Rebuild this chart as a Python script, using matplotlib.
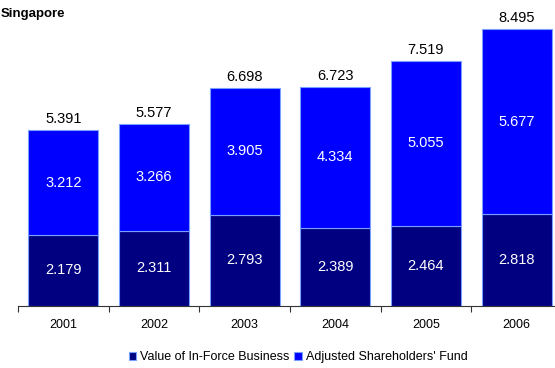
import matplotlib
matplotlib.use("Agg")
import numpy as np
import matplotlib.pyplot as plt

plt.rcParams["font.family"] = ["Liberation Sans", "DejaVu Sans"]

years = ["2001", "2002", "2003", "2004", "2005", "2006"]
in_force = [2.179, 2.311, 2.793, 2.389, 2.464, 2.818]
adj_fund = [3.212, 3.266, 3.905, 4.334, 5.055, 5.677]
totals = [5.391, 5.577, 6.698, 6.723, 7.519, 8.495]

NAVY = "#000080"
BLUE = "#0000ff"
EDGE = "#7aa0ff"

fig = plt.figure(figsize=(5.55, 3.68), dpi=100)
# axes runs past the right edge, like the cropped original
ax = fig.add_axes([18 / 555, 62 / 368, 544 / 555, 9 * 32.6 / 368])

x = np.arange(len(years))

b1 = ax.bar(x, in_force, width=0.77, color=NAVY, edgecolor=EDGE,
            linewidth=0.8, label="Value of In-Force Business")
b2 = ax.bar(x, adj_fund, width=0.77, bottom=in_force, color=BLUE,
            edgecolor=EDGE, linewidth=0.8, label="Adjusted Shareholders' Fund")

for i in range(len(years)):
    ax.text(x[i], in_force[i] / 2, f"{in_force[i]:.3f}", ha="center",
            va="center", color="white", fontsize=10.5)
    ax.text(x[i], in_force[i] + adj_fund[i] / 2, f"{adj_fund[i]:.3f}",
            ha="center", va="center", color="white", fontsize=10.5)
    ax.text(x[i], totals[i] + 0.12, f"{totals[i]:.3f}", ha="center",
            va="bottom", color="black", fontsize=10.5)

ax.set_xlim(-0.5, len(years) - 0.5)
ax.set_ylim(0, 9)

for s in ["top", "right", "left"]:
    ax.spines[s].set_visible(False)
ax.spines["bottom"].set_color("#333333")
ax.spines["bottom"].set_linewidth(0.8)

ax.set_yticks([])
ax.set_xticks(np.arange(-0.5, len(years), 1.0))
ax.set_xticklabels([])
ax.tick_params(axis="x", length=4, width=0.8, color="#333333")
ax.set_xticks(x, minor=True)
ax.set_xticklabels(years, minor=True, fontsize=9)
ax.tick_params(axis="x", which="minor", length=0, pad=9)

fig.text(0.002, 0.978, "Singapore", fontsize=9.5, fontweight="bold",
         ha="left", va="top")

fig.legend(handles=[b1, b2], loc="center", bbox_to_anchor=(298 / 555, 1 - 357 / 368),
           ncol=2, frameon=False, fontsize=9, handlelength=0.6,
           handleheight=0.6, handletextpad=0.3, columnspacing=0.4)

fig.savefig("out.png", dpi=100)
